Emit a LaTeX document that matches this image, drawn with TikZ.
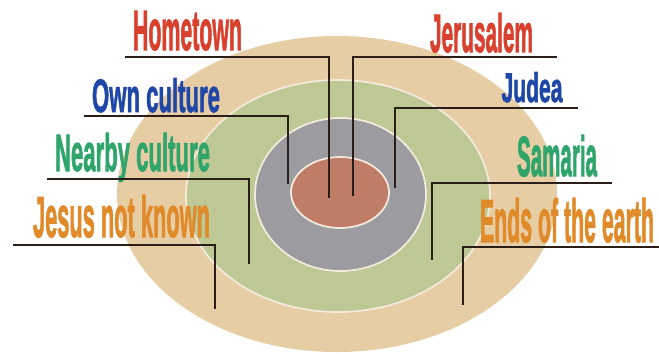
\documentclass[tikz,border=0pt]{standalone}
\usepackage{fontspec}
\setmainfont[BoldFeatures={FakeBold=2}]{Liberation Sans}
\usepackage{tikz}

\definecolor{ringtan}{HTML}{E6CDA3}
\definecolor{ringgreen}{HTML}{BDC895}
\definecolor{ringgray}{HTML}{9C9CA0}
\definecolor{ringred}{HTML}{BF7C67}
\definecolor{ringborder}{HTML}{F3E9DC}
\definecolor{leaderbrown}{HTML}{2B1D17}
\definecolor{txtred}{HTML}{D9412E}
\definecolor{txtblue}{HTML}{1F47A8}
\definecolor{txtgreen}{HTML}{2FA56B}
\definecolor{txtorange}{HTML}{E08A2A}

\begin{document}
\begin{tikzpicture}[x=0.02cm, y=-0.02cm,
  leader/.style={line width=1.5pt, draw=leaderbrown},
  ringedge/.style={draw=ringborder, line width=1pt},
  lbl/.style={anchor=base, inner sep=0pt, font=\bfseries}]
  \useasboundingbox (0,0) rectangle (659,353);

  % --- rings ---
  \fill[ringtan] (337,194) ellipse [x radius=220, y radius=158];
  \filldraw[ringedge, fill=ringgreen] (338,196) ellipse [x radius=152, y radius=116];
  \filldraw[ringedge, fill=ringgray] (340.5,194.5) ellipse [x radius=85.5, y radius=76.5];
  \filldraw[ringedge, fill=ringred] (340,192.5) ellipse [x radius=49, y radius=35.5];

  % --- left labels ---
  \node[lbl, text=txtred] (hometown) at (187.5,50) {\resizebox{2.18cm}{0.78cm}{Hometown}};
  \node[lbl, text=txtblue] (own) at (156,112) {\resizebox{2.56cm}{0.68cm}{Own culture}};
  \node[lbl, text=txtgreen] (nearby) at (132.5,171) {\resizebox{3.10cm}{0.76cm}{Nearby culture}};
  \node[lbl, text=txtorange] (unknown) at (121.5,237) {\resizebox{3.54cm}{0.84cm}{Jesus not known}};

  % --- right labels ---
  \node[lbl, text=txtred] (jerusalem) at (481.5,52) {\resizebox{2.06cm}{0.78cm}{Jerusalem}};
  \node[lbl, text=txtblue] (judea) at (532,102) {\resizebox{1.22cm}{0.60cm}{Judea}};
  \node[lbl, text=txtgreen] (samaria) at (557,176) {\resizebox{1.60cm}{0.82cm}{Samaria}};
  \node[lbl, text=txtorange] (ends) at (567,242) {\resizebox{3.48cm}{0.88cm}{Ends of the earth}};

  % --- leader lines ---
  \coordinate (hometown-a) at (125,57);   \coordinate (hometown-b) at (329,198);
  \coordinate (own-a) at (84,116);        \coordinate (own-b) at (288,184);
  \coordinate (nearby-a) at (47,179);     \coordinate (nearby-b) at (249,264);
  \coordinate (unknown-a) at (13,245);    \coordinate (unknown-b) at (215,309);
  \coordinate (jerusalem-a) at (557,57);  \coordinate (jerusalem-b) at (353,196);
  \coordinate (judea-a) at (578,108);     \coordinate (judea-b) at (395,188);
  \coordinate (samaria-a) at (612,183);   \coordinate (samaria-b) at (432,260);
  \coordinate (ends-a) at (659,247);      \coordinate (ends-b) at (463,305);

  \draw[leader] (hometown-a) -| (hometown-b);
  \draw[leader] (own-a) -| (own-b);
  \draw[leader] (nearby-a) -| (nearby-b);
  \draw[leader] (unknown-a) -| (unknown-b);
  \draw[leader] (jerusalem-a) -| (jerusalem-b);
  \draw[leader] (judea-a) -| (judea-b);
  \draw[leader] (samaria-a) -| (samaria-b);
  \draw[leader] (ends-a) -| (ends-b);
\end{tikzpicture}
\end{document}
